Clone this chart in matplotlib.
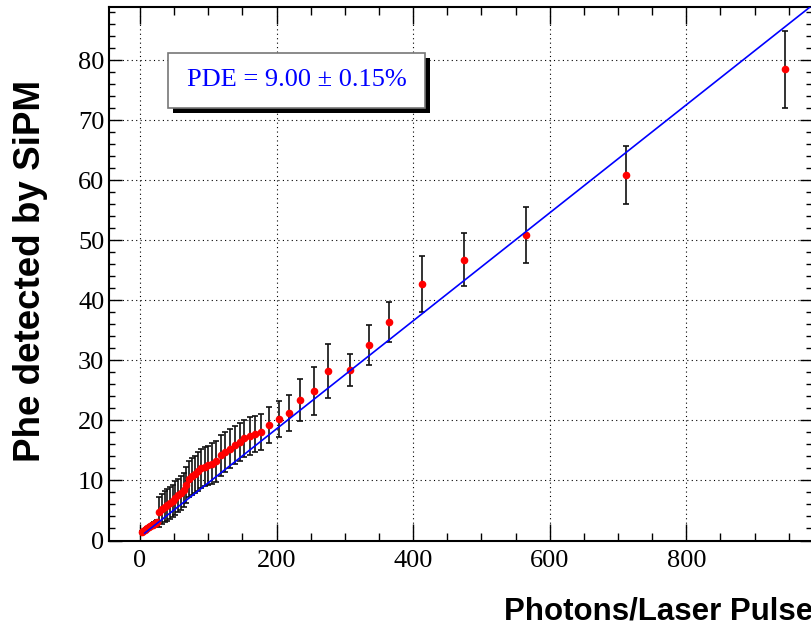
import numpy as np
import matplotlib.pyplot as plt
from matplotlib.patches import Rectangle
from matplotlib.ticker import MultipleLocator

# photons per laser pulse vs photoelectrons seen by the SiPM
x_low = [3, 5, 7, 9, 11, 13, 15, 17, 19, 21, 23, 25]
y_low = [1.4, 1.6, 1.75, 1.9, 2.05, 2.2, 2.35, 2.5, 2.65, 2.8, 2.95, 3.1]
e_low = [0.2, 0.2, 0.2, 0.2, 0.25, 0.25, 0.25, 0.3, 0.3, 0.3, 0.3, 0.3]

x_mid = [28, 32, 36, 40, 44, 48, 52, 56, 60, 64, 68, 72, 76, 80, 85, 90, 95,
         100, 105, 111, 118, 125, 132, 139, 146, 153, 161, 169, 177, 189, 203,
         219, 235]
y_mid = [4.7, 5.3, 5.6, 5.9, 6.2, 6.6, 7.1, 7.5, 7.9, 8.4, 9.2, 10.2, 10.7,
         11.0, 11.5, 12.0, 12.3, 12.5, 12.8, 13.2, 14.2, 14.7, 15.3, 15.9, 16.4,
         17.0, 17.4, 17.8, 18.1, 19.2, 20.2, 21.2, 23.4]
e_mid = [2.5, 2.5, 2.6, 2.6, 2.7, 2.7, 2.8, 2.8, 2.9, 2.9, 3.0, 3.0, 3.1, 3.1,
         3.2, 3.2, 3.3, 3.3, 3.4, 3.4, 3.4, 3.3, 3.3, 3.2, 3.2, 3.1, 3.1, 3.0,
         3.0, 3.0, 3.0, 3.0, 3.5]

x_high = [255, 275, 307, 335, 365, 413, 474, 565, 712, 944]
y_high = [24.9, 28.3, 28.4, 32.6, 36.4, 42.7, 46.8, 50.9, 60.9, 78.5]
e_high = [4.0, 4.5, 2.7, 3.3, 3.4, 4.7, 4.4, 4.6, 4.8, 6.4]

# linear fit (p0 + p1*x)
fit_p0 = 0.6
fit_p1 = 0.09
fit_range = [7, 1000]

x = np.array(x_low + x_mid + x_high)
y = np.array(y_low + y_mid + y_high)
ey = np.array(e_low + e_mid + e_high)

W, H = 811, 628
fig = plt.figure(figsize=(W / 100, H / 100), dpi=100)
ax = fig.add_axes([108.5 / W, (H - 540.5) / H, (812 - 108.5) / W, (540.5 - 7) / H])

ax.errorbar(x, y, yerr=ey, fmt='o', color='red', ms=5.5, mec='none',
            ecolor='#111111', elinewidth=1.2, capsize=2.2, capthick=1.2, zorder=3)

xf = np.array(fit_range, dtype=float)
ax.plot(xf, fit_p0 + fit_p1 * xf, color='blue', lw=1.2, zorder=4)

ax.set_xlim(-46, 984)
ax.set_ylim(0, 88.9)
ax.xaxis.set_major_locator(MultipleLocator(200))
ax.xaxis.set_minor_locator(MultipleLocator(50))
ax.yaxis.set_major_locator(MultipleLocator(10))
ax.yaxis.set_minor_locator(MultipleLocator(2))
ax.grid(True, which='major', color='black', ls=(0, (1, 3)), lw=0.8)
ax.set_axisbelow(True)

ax.tick_params(which='both', direction='in', top=True, right=True, width=1)
ax.tick_params(axis='x', which='major', length=12, pad=7)
ax.tick_params(axis='x', which='minor', length=6)
ax.tick_params(axis='y', which='major', length=9, pad=3)
ax.tick_params(axis='y', which='minor', length=4.5)
for lab in ax.get_xticklabels() + ax.get_yticklabels():
    lab.set_fontfamily('Liberation Serif')
    lab.set_fontsize(19)
for s in ax.spines.values():
    s.set_linewidth(1.5)

fig.text(504 / W, (H - 620) / H, 'Photons/Laser Pulse', ha='left', va='baseline',
         fontsize=22.5, fontweight='bold', family='Liberation Sans')
fig.text(31 / W, (H - 271) / H, 'Phe detected by SiPM', ha='center', va='center',
         rotation=90, fontsize=26.5, fontweight='bold', family='Liberation Sans')

# fit result box with shadow
bx0, bx1, by0, by1 = 168.3, 425, 53, 108
fig.patches.append(Rectangle(((bx0 + 5) / W, (H - by1 - 5) / H), (bx1 - bx0) / W,
                             (by1 - by0) / H, transform=fig.transFigure,
                             facecolor='black', edgecolor='none', zorder=10))
fig.patches.append(Rectangle((bx0 / W, (H - by1) / H), (bx1 - bx0) / W,
                             (by1 - by0) / H, transform=fig.transFigure,
                             facecolor='white', edgecolor='#777777', lw=1.2, zorder=11))
fig.text((bx0 + bx1) / 2 / W, (H - (by0 + by1) / 2) / H, 'PDE = 9.00 ± 0.15%',
         ha='center', va='center', color='blue', fontsize=19,
         family='Liberation Serif', zorder=12)

fig.savefig('out.png', dpi=100)
